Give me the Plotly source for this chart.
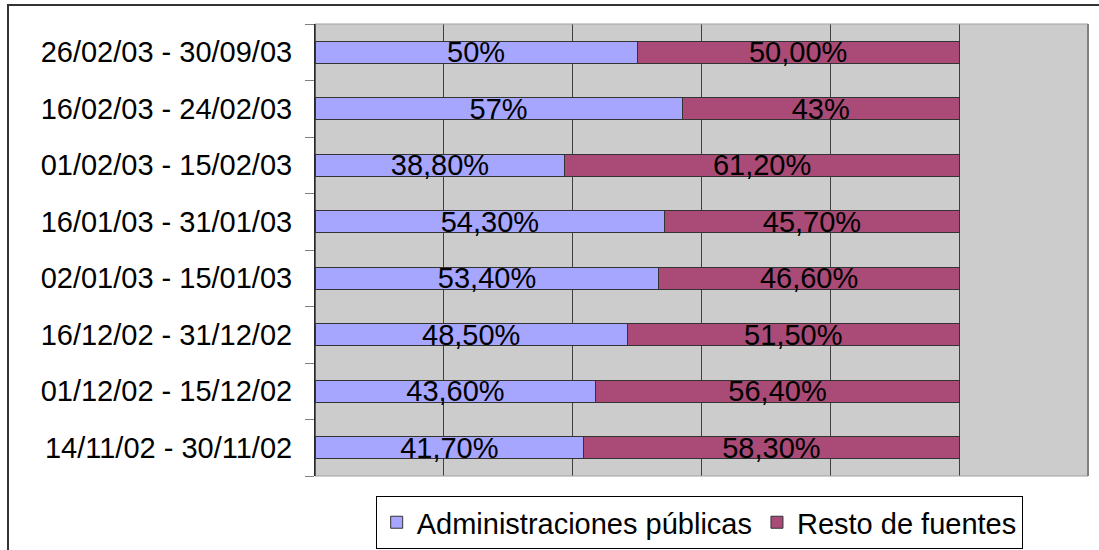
import plotly.graph_objects as go

categories = ["14/11/02 - 30/11/02", "01/12/02 - 15/12/02", "16/12/02 - 31/12/02",
              "02/01/03 - 15/01/03", "16/01/03 - 31/01/03", "01/02/03 - 15/02/03",
              "16/02/03 - 24/02/03", "26/02/03 - 30/09/03"]
admin_vals = [41.7, 43.6, 48.5, 53.4, 54.3, 38.8, 57.0, 50.0]
admin_text = ["41,70%", "43,60%", "48,50%", "53,40%", "54,30%", "38,80%", "57%", "50%"]
resto_vals = [58.3, 56.4, 51.5, 46.6, 45.7, 61.2, 43.0, 50.0]
resto_text = ["58,30%", "56,40%", "51,50%", "46,60%", "45,70%", "61,20%", "43%", "50,00%"]

FONT = "Arial, Liberation Sans, sans-serif"
FS = 29

fig = go.Figure()
fig.add_trace(go.Bar(
    y=categories, x=admin_vals, orientation="h", name="Administraciones públicas",
    marker=dict(color="#A6A6FF", line=dict(color="#333333", width=1)),
    text=admin_text, textposition="inside", insidetextanchor="middle",
    constraintext="none", textfont=dict(color="black", size=FS, family=FONT),
    hoverinfo="skip"))
fig.add_trace(go.Bar(
    y=categories, x=resto_vals, orientation="h", name="Resto de fuentes",
    marker=dict(color="#A94B76", line=dict(color="#333333", width=1)),
    text=resto_text, textposition="inside", insidetextanchor="middle",
    constraintext="none", textfont=dict(color="black", size=FS, family=FONT),
    hoverinfo="skip"))

W, H = 1099, 550
L, R, T, B = 315, 11, 24, 74
pw, ph = W - L - R, H - T - B

fig.update_layout(
    width=W, height=H, barmode="stack", bargap=0.61,
    margin=dict(l=L, r=R, t=T, b=B, pad=0, autoexpand=False),
    paper_bgcolor="white", plot_bgcolor="#CCCCCC",
    font=dict(family=FONT, size=FS, color="black"),
    showlegend=True, hovermode=False,
    legend=dict(orientation="h", x=0.497, xanchor="center", y=-0.044, yanchor="top",
                bordercolor="black", borderwidth=1, bgcolor="white",
                font=dict(size=FS, family=FONT), traceorder="normal",
                tracegroupgap=0, itemwidth=30),
    xaxis=dict(range=[0, 120], dtick=20, showticklabels=False, showgrid=True,
               gridcolor="#404040", gridwidth=1, zeroline=False, ticks="",
               fixedrange=True, automargin=False),
    yaxis=dict(categoryorder="array", categoryarray=categories, ticks="outside",
               tickson="boundaries", ticklen=9, tickcolor="#808080", tickwidth=1,
               showline=True, linecolor="black", linewidth=1, showgrid=False,
               tickfont=dict(size=FS, family=FONT), ticklabelstandoff=16,
               automargin=False, fixedrange=True),
    shapes=[
        dict(type="rect", xref="paper", yref="paper", x0=0, x1=1, y0=0, y1=1,
             line=dict(color="#A0A0A0", width=1), layer="above"),
        dict(type="line", xref="paper", yref="paper", x0=1, x1=1, y0=0, y1=1,
             line=dict(color="#808080", width=2), layer="above"),
        dict(type="line", xref="paper", yref="paper", x0=0, x1=0, y0=0, y1=1,
             line=dict(color="black", width=1), layer="above"),
        dict(type="rect", xref="paper", yref="paper",
             x0=(8 - L) / pw, x1=(W + 20 - L) / pw,
             y0=-(H + 20 - (T + ph)) / ph, y1=1 + (T - 5) / ph,
             line=dict(color="#333333", width=2)),
    ],
)

fig.write_html("out.html", config={"displayModeBar": False},
               post_script="document.body.style.margin='0';document.body.style.overflow='hidden';")
